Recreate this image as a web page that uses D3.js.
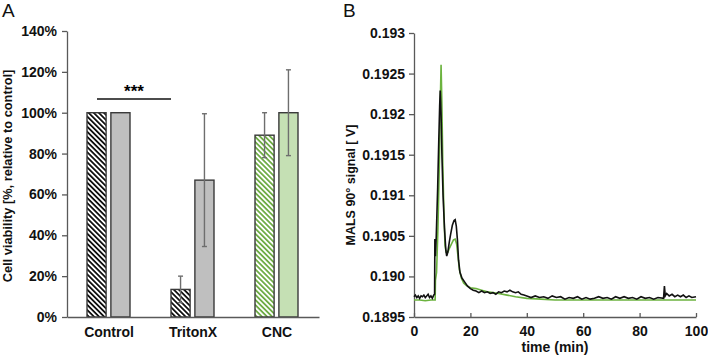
<!DOCTYPE html>
<html>
<head>
<meta charset="utf-8">
<script src="https://cdn.jsdelivr.net/npm/d3@7"></script>
<style>
  body { margin: 0; background: #fff; }
  text { font-family: "Liberation Sans", Arial, sans-serif; }
  .axis text { font-size: 14px; font-weight: bold; fill: #111; }
  .axis path, .axis line { stroke: #595959; stroke-width: 1.3; }
</style>
</head>
<body>
<div id="chart"></div>
<script>
// ---- panel A data ----
var categories = ["Control", "TritonX", "CNC"];
var treatedValues = [100, 13.5, 89];
var treatedErrors = [0, 6.5, 11];
var untreatedValues = [100, 67, 100];
var untreatedErrors = [0, 32.5, 21];
var percentTicks = [0, 20, 40, 60, 80, 100, 120, 140];

// ---- panel B data: [time (min), signal (V)] ----
var blackSignal = [
  [0, 0.18975], [0.5, 0.18977], [1, 0.18974], [1.5, 0.18976], [2, 0.18973], [2.5, 0.18976],
  [3, 0.18975], [3.5, 0.18977], [4, 0.18974], [4.5, 0.18976], [5, 0.18978], [5.5, 0.18974],
  [6, 0.18976], [6.5, 0.18973], [7, 0.18977], [7.3, 0.18978], [7.4, 0.19046], [7.6, 0.19025],
  [7.9, 0.1905], [8.4, 0.1911], [8.8, 0.1917], [9.1, 0.1921], [9.3, 0.19229], [9.6, 0.1920],
  [9.9, 0.1915], [10.3, 0.1910], [10.8, 0.1906], [11.3, 0.19032], [11.6, 0.19025], [12.0, 0.1903],
  [12.5, 0.19042], [13.0, 0.19052], [13.6, 0.19063], [14.2, 0.19069], [14.6, 0.19070],
  [15.0, 0.19062], [15.4, 0.19045], [15.8, 0.1902], [16.3, 0.19005], [17, 0.18998],
  [18, 0.18993], [19, 0.18988], [20, 0.18985], [21, 0.18983], [22, 0.18982], [23, 0.18980],
  [24, 0.18982], [25, 0.18980], [26, 0.18981], [27, 0.18979], [28, 0.18980], [29, 0.18978],
  [30, 0.18981], [31, 0.18980], [32, 0.18982], [33, 0.18981], [34, 0.18983], [35, 0.18981],
  [36, 0.18980], [37, 0.18981], [38, 0.18978], [39, 0.18977], [40, 0.18976], [41.5, 0.18974],
  [43, 0.18976], [44.5, 0.18974], [46, 0.18975], [47.5, 0.18973], [49, 0.18976], [50.5, 0.18974],
  [52, 0.18975], [53.5, 0.18972], [55, 0.18974], [56.5, 0.18973], [58, 0.18975], [59.5, 0.18972],
  [61, 0.18974], [62.5, 0.18972], [64, 0.18973], [65.5, 0.18975], [67, 0.18973], [68.5, 0.18974],
  [70, 0.18972], [71.5, 0.18975], [73, 0.18973], [74.5, 0.18975], [76, 0.18973], [77.5, 0.18974],
  [79, 0.18972], [80.5, 0.18975], [82, 0.18973], [83.5, 0.18974], [85, 0.18972], [86.5, 0.18974],
  [88.5, 0.18973], [88.8, 0.18988], [89.1, 0.18976], [89.6, 0.18979], [90.5, 0.18976],
  [91.5, 0.18978], [92.5, 0.18975], [93.5, 0.18977], [94.5, 0.18975], [95.5, 0.18977],
  [96.5, 0.18974], [97.5, 0.18976], [98.5, 0.18974], [100, 0.18975]
];
var greenSignal = [
  [0, 0.18971], [2, 0.18971], [4, 0.18970], [6, 0.18971], [7.5, 0.18971], [7.6, 0.18995],
  [8.0, 0.19005], [8.5, 0.1906], [9.0, 0.1914], [9.3, 0.1921], [9.6, 0.19261], [9.9, 0.1921],
  [10.2, 0.1914], [10.6, 0.1908], [11.0, 0.19038], [11.4, 0.19030], [12.0, 0.19030],
  [12.6, 0.19035], [13.3, 0.19040], [14.0, 0.19045], [14.6, 0.19046], [15.1, 0.19040],
  [15.6, 0.19025], [16.1, 0.19008], [16.8, 0.18998], [17.6, 0.18992], [18.5, 0.18989],
  [20, 0.18986], [22, 0.18985], [24, 0.18983], [26, 0.18981], [28, 0.18980], [30, 0.18979],
  [33, 0.18977], [36, 0.18975], [40, 0.18973], [45, 0.18972], [50, 0.18971], [60, 0.18971],
  [70, 0.18971], [80, 0.18971], [90, 0.18971], [100, 0.18971]
];
var signalTicks = [0.1895, 0.190, 0.1905, 0.191, 0.1915, 0.192, 0.1925, 0.193];
var signalTickLabels = ["0.1895", "0.190", "0.1905", "0.191", "0.1915", "0.192", "0.1925", "0.193"];
var timeTicks = [0, 20, 40, 60, 80, 100];

var svg = d3.select("#chart").append("svg")
  .attr("width", 708)
  .attr("height", 357)
  .style("background-color", "#fff");

// hatch patterns
var defs = svg.append("defs");
function hatch(id, color) {
  defs.append("pattern")
      .attr("id", id)
      .attr("patternUnits", "userSpaceOnUse")
      .attr("width", 3.6).attr("height", 3.6)
      .attr("patternTransform", "rotate(-45)")
    .call(function(p) {
      p.append("rect").attr("width", 3.6).attr("height", 3.6).attr("fill", "#fff");
      p.append("line").attr("x1", 0.9).attr("y1", 0).attr("x2", 0.9).attr("y2", 3.6)
        .attr("stroke", color).attr("stroke-width", 1.8);
    });
}
hatch("hatchBlack", "#111");
hatch("hatchGreen", "#70ad47");

// ================= panel A =================
var xA = d3.scaleBand().domain(categories).range([67, 319]);
var sub = d3.scaleBand().domain(["treated", "untreated"]).range([20, 63]).paddingInner(0.2);
var yA = d3.scaleLinear().domain([0, 140]).range([317, 31]);

var treatedFill = ["url(#hatchBlack)", "url(#hatchBlack)", "url(#hatchGreen)"];
var untreatedFill = ["#bfbfbf", "#bfbfbf", "#c5e0b4"];

var bars = [];
categories.forEach(function(c, i) {
  bars.push({cat: c, key: "treated", v: treatedValues[i], e: treatedErrors[i], fill: treatedFill[i]});
  bars.push({cat: c, key: "untreated", v: untreatedValues[i], e: untreatedErrors[i], fill: untreatedFill[i]});
});

var gA = svg.append("g");

gA.selectAll(".bar")
  .data(bars)
  .enter().append("rect")
    .attr("class", "bar")
    .attr("x", function(d) { return xA(d.cat) + sub(d.key); })
    .attr("y", function(d) { return yA(d.v); })
    .attr("width", sub.bandwidth())
    .attr("height", function(d) { return yA(0) - yA(d.v); })
    .attr("fill", function(d) { return d.fill; })
    .attr("stroke", "#3a3a3a")
    .attr("stroke-width", 1.4);

// error bars
var errs = bars.filter(function(d) { return d.e > 0; });
var errG = gA.selectAll(".err").data(errs).enter().append("g").attr("class", "err")
  .attr("stroke", "#6e6e6e").attr("stroke-width", 1.4);
errG.append("line")
  .attr("x1", function(d) { return xA(d.cat) + sub(d.key) + sub.bandwidth() / 2; })
  .attr("x2", function(d) { return xA(d.cat) + sub(d.key) + sub.bandwidth() / 2; })
  .attr("y1", function(d) { return yA(d.v + d.e); })
  .attr("y2", function(d) { return yA(d.v - d.e); });
[1, -1].forEach(function(s) {
  errG.append("line")
    .attr("x1", function(d) { return xA(d.cat) + sub(d.key) + sub.bandwidth() / 2 - 2.5; })
    .attr("x2", function(d) { return xA(d.cat) + sub(d.key) + sub.bandwidth() / 2 + 2.5; })
    .attr("y1", function(d) { return yA(d.v + s * d.e); })
    .attr("y2", function(d) { return yA(d.v + s * d.e); });
});

// axes
gA.append("g")
    .attr("class", "axis")
    .attr("transform", "translate(67,0)")
    .call(d3.axisLeft(yA).tickValues(percentTicks).tickFormat(function(d) { return d + "%"; })
      .tickSizeInner(5).tickSizeOuter(0).tickPadding(5));
gA.append("g")
    .attr("class", "axis")
    .attr("transform", "translate(0," + yA(0) + ")")
    .call(d3.axisBottom(xA).tickSize(0).tickPadding(10));

// significance
gA.append("line")
  .attr("x1", 97).attr("x2", 171).attr("y1", 99).attr("y2", 99)
  .attr("stroke", "#111").attr("stroke-width", 1.4);
gA.append("text")
  .attr("x", 134).attr("y", 97)
  .attr("text-anchor", "middle")
  .style("font-size", "17px").style("font-weight", "bold")
  .text("***");

gA.append("text")
  .attr("transform", "translate(12,176) rotate(-90)")
  .attr("text-anchor", "middle")
  .style("font-size", "12.8px").style("font-weight", "bold").attr("fill", "#111")
  .text("Cell viability [%, relative to control]");

svg.append("text").attr("x", 2).attr("y", 17)
  .style("font-size", "19px").attr("fill", "#111").text("A");

// ================= panel B =================
var xB = d3.scaleLinear().domain([0, 100]).range([414, 696]);
var yB = d3.scaleLinear().domain([0.1895, 0.193]).range([317, 33]);

var gB = svg.append("g");

gB.append("g")
    .attr("class", "axis")
    .attr("transform", "translate(414,0)")
    .call(d3.axisLeft(yB).tickValues(signalTicks)
      .tickFormat(function(d, i) { return signalTickLabels[i]; })
      .tickSizeInner(5).tickSizeOuter(0).tickPadding(4));
var xAxisB = gB.append("g")
    .attr("class", "axis")
    .attr("transform", "translate(0," + yB(0.1895) + ")")
    .call(d3.axisBottom(xB).tickValues(timeTicks).tickSizeInner(-4).tickSizeOuter(0).tickPadding(4));
xAxisB.selectAll("text").attr("dy", "1.05em");

var line = d3.line()
  .x(function(d) { return xB(d[0]); })
  .y(function(d) { return yB(d[1]); });

gB.append("path")
  .datum(greenSignal)
  .attr("d", line)
  .attr("fill", "none")
  .attr("stroke", "#6cb33f")
  .attr("stroke-width", 1.6);
gB.append("path")
  .datum(blackSignal)
  .attr("d", line)
  .attr("fill", "none")
  .attr("stroke", "#111")
  .attr("stroke-width", 1.6);

gB.append("text")
  .attr("x", 555).attr("y", 352)
  .attr("text-anchor", "middle")
  .style("font-size", "14px").style("font-weight", "bold").attr("fill", "#111")
  .text("time (min)");

gB.append("text")
  .attr("transform", "translate(355,185) rotate(-90)")
  .attr("text-anchor", "middle")
  .style("font-size", "12.5px").style("font-weight", "bold").attr("fill", "#111")
  .text("MALS 90° signal [ V]");

svg.append("text").attr("x", 343).attr("y", 17)
  .style("font-size", "19px").attr("fill", "#111").text("B");
</script>
</body>
</html>
